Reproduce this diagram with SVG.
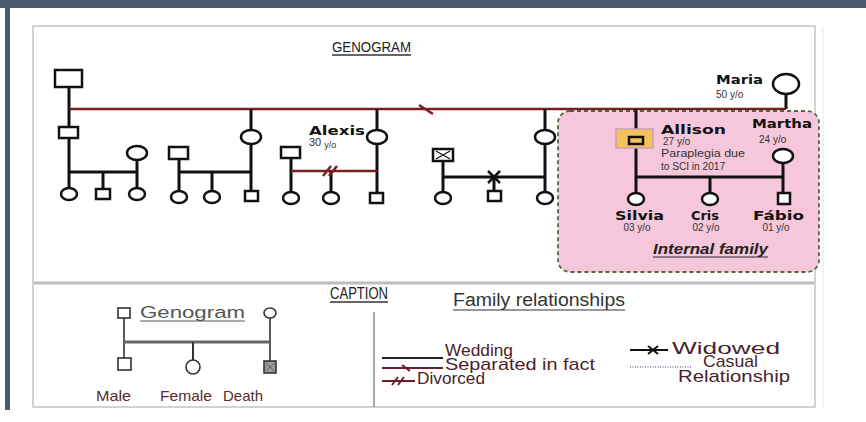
<svg xmlns="http://www.w3.org/2000/svg" width="866" height="422" viewBox="0 0 866 422">
<style>
.ln{stroke:#111;stroke-width:3;fill:none}
.rl{stroke:#7a1f22;stroke-width:2.5;fill:none}
.nd{stroke:#111;stroke-width:2.5;fill:#fff}
.nm{font-family:"DejaVu Sans",sans-serif;font-weight:bold;font-size:13px;fill:#111}
.ag{font-family:"Liberation Sans",Arial,sans-serif;font-size:10px;fill:#333}
.lg{font-family:"Liberation Sans",Arial,sans-serif;font-size:17px;fill:#4a1f2a}
.lb{font-family:"Liberation Sans",Arial,sans-serif;font-size:15px;fill:#5a2a2a}
.cap{stroke:#333;stroke-width:1.6;fill:#fff}
</style>
<rect x="0" y="0" width="866" height="422" fill="#fff"/>
<rect x="0" y="0" width="866" height="8" fill="#4a5b70"/>
<rect x="5" y="0" width="5" height="410" fill="#4a5b70"/>
<rect x="33" y="26" width="782" height="381" fill="#fff" stroke="#c4c4c4" stroke-width="1.5"/>
<line x1="823" y1="26" x2="823" y2="407" stroke="#eee" stroke-width="1.5"/>
<line x1="33" y1="283" x2="815" y2="283" stroke="#bdbdbd" stroke-width="3"/>

<g id="title">
<text x="332" y="52" font-family="Liberation Sans,Arial,sans-serif" font-size="15" fill="#222" textLength="79" lengthAdjust="spacingAndGlyphs">GENOGRAM</text>
<line x1="332" y1="55" x2="411" y2="55" stroke="#333" stroke-width="1.3"/>
</g>

<g id="internal-family-box">
<rect x="558" y="111" width="261" height="161" rx="12" fill="#f6c7da" stroke="#4f6b3a" stroke-width="1.8" stroke-dasharray="4 3"/>
</g>

<g id="connectors">
<line class="ln" x1="69" y1="87" x2="69" y2="109"/>
<line class="rl" x1="69" y1="109" x2="786" y2="109"/>
<path class="rl" d="M419,105 L433,114" stroke-width="2"/>
<line class="ln" x1="69" y1="109" x2="69" y2="189"/>
<line class="ln" x1="137" y1="160" x2="137" y2="188"/>
<line class="ln" x1="69" y1="172" x2="137" y2="172"/>
<line class="ln" x1="103" y1="172" x2="103" y2="189"/>
<line class="ln" x1="179" y1="159" x2="179" y2="191"/>
<line class="ln" x1="251" y1="109" x2="251" y2="190"/>
<line class="ln" x1="179" y1="172" x2="251" y2="172"/>
<line class="ln" x1="212" y1="172" x2="212" y2="191"/>
<line class="ln" x1="377" y1="109" x2="377" y2="193"/>
<line class="ln" x1="291" y1="158" x2="291" y2="192"/>
<line class="rl" x1="291" y1="171" x2="377" y2="171"/>
<line class="ln" x1="331" y1="171" x2="331" y2="192"/>
<path class="rl" d="M323,176 L331,166 M329,176 L337,166" stroke-width="2"/>
<line class="ln" x1="443" y1="161" x2="443" y2="192"/>
<line class="ln" x1="443" y1="177" x2="545" y2="177"/>
<line class="ln" x1="545" y1="109" x2="545" y2="192"/>
<line class="ln" x1="494" y1="177" x2="494" y2="191"/>
<path d="M488,171 L500,183 M488,183 L500,171" stroke="#111" stroke-width="2.5"/>
<line class="ln" x1="636" y1="109" x2="636" y2="193"/>
<line class="ln" x1="636" y1="177" x2="783" y2="177"/>
<line class="ln" x1="783" y1="163" x2="783" y2="193"/>
<line class="ln" x1="710" y1="177" x2="710" y2="193"/>
<line class="ln" x1="786" y1="94" x2="786" y2="109"/>
</g>

<g id="grandfather"><rect class="nd" x="55" y="70" width="27" height="17" stroke-width="3.5"/></g>
<g id="son1"><rect class="nd" x="59" y="127" width="19" height="11"/></g>
<g id="son1-wife"><ellipse class="nd" cx="137" cy="153" rx="10" ry="7"/></g>
<g id="gc1"><ellipse class="nd" cx="69" cy="194" rx="8" ry="6"/></g>
<g id="gc2"><rect class="nd" x="96" y="189" width="14" height="10"/></g>
<g id="gc3"><ellipse class="nd" cx="137" cy="194" rx="8" ry="6"/></g>

<g id="daughter1-husband"><rect class="nd" x="169" y="147" width="19" height="12"/></g>
<g id="daughter1"><ellipse class="nd" cx="251" cy="137" rx="10" ry="7"/></g>
<g id="gc4"><ellipse class="nd" cx="179" cy="197" rx="8" ry="6"/></g>
<g id="gc5"><ellipse class="nd" cx="212" cy="197" rx="8" ry="6"/></g>
<g id="gc6"><rect class="nd" x="245" y="191" width="13" height="10"/></g>

<g id="alexis">
<ellipse class="nd" cx="377" cy="137" rx="10" ry="7"/>
<text class="nm" x="309" y="135" textLength="56" lengthAdjust="spacingAndGlyphs">Alexis</text>
<text x="309" y="146" font-family="Liberation Sans,Arial,sans-serif" font-size="11" fill="#333">30 <tspan font-size="9" dy="2">y/o</tspan></text>
</g>
<g id="alexis-ex"><rect class="nd" x="281" y="147" width="19" height="11"/></g>
<g id="gc7"><ellipse class="nd" cx="291" cy="198" rx="8" ry="6"/></g>
<g id="gc8"><ellipse class="nd" cx="331" cy="198" rx="8" ry="6"/></g>
<g id="gc9"><rect class="nd" x="370" y="193" width="13" height="10"/></g>

<g id="deceased-husband">
<rect class="nd" x="433" y="149" width="20" height="12"/>
<path d="M436,151 L450,159 M436,159 L450,151" stroke="#111" stroke-width="1.2"/>
</g>
<g id="daughter3"><ellipse class="nd" cx="545" cy="137" rx="10" ry="7"/></g>
<g id="gc10"><ellipse class="nd" cx="443" cy="198" rx="8" ry="6"/></g>
<g id="gc11"><rect class="nd" x="488" y="191" width="13" height="10"/></g>
<g id="gc12"><ellipse class="nd" cx="545" cy="198" rx="8" ry="6"/></g>

<g id="maria">
<ellipse class="nd" cx="786" cy="84" rx="13" ry="10"/>
<text class="nm" x="716" y="84" textLength="47" lengthAdjust="spacingAndGlyphs">Maria</text>
<text class="ag" x="716" y="98" font-size="11">50 y/o</text>
</g>

<g id="allison">
<rect x="616" y="129" width="37" height="19" fill="#f6c35b" stroke="#c9a0b8" stroke-width="1.5"/>
<rect x="629" y="137" width="14" height="7" fill="#f6c35b" stroke="#111" stroke-width="2.5"/>
<text class="nm" x="661" y="134" textLength="65" lengthAdjust="spacingAndGlyphs">Allison</text>
<text class="ag" x="663" y="145" font-size="11">27 y/o</text>
<text class="ag" x="661" y="157" font-size="10.5" textLength="84" lengthAdjust="spacingAndGlyphs">Paraplegia due</text>
<text class="ag" x="661" y="170" font-size="10.5" textLength="64" lengthAdjust="spacingAndGlyphs">to SCI in 2017</text>
</g>
<g id="martha">
<ellipse class="nd" cx="783" cy="156" rx="10" ry="7"/>
<text class="nm" x="752" y="128" textLength="60" lengthAdjust="spacingAndGlyphs">Martha</text>
<text class="ag" x="759" y="143" font-size="11">24 y/o</text>
</g>
<g id="silvia">
<ellipse class="nd" cx="636" cy="199" rx="8" ry="6"/>
<text class="nm" x="615" y="220" textLength="49" lengthAdjust="spacingAndGlyphs">Silvia</text>
<text class="ag" x="637" y="231" text-anchor="middle">03 y/o</text>
</g>
<g id="cris">
<ellipse class="nd" cx="710" cy="199" rx="8" ry="6"/>
<text class="nm" x="691" y="220" textLength="28" lengthAdjust="spacingAndGlyphs">Cris</text>
<text class="ag" x="706" y="231" text-anchor="middle">02 y/o</text>
</g>
<g id="fabio">
<rect class="nd" x="778" y="193" width="12" height="11"/>
<text class="nm" x="753" y="220" textLength="51" lengthAdjust="spacingAndGlyphs">Fábio</text>
<text class="ag" x="776" y="231" text-anchor="middle">01 y/o</text>
</g>
<g id="internal-family-label">
<text x="653" y="254" font-family="Liberation Sans,Arial,sans-serif" font-size="14" font-weight="bold" font-style="italic" fill="#222" textLength="115" lengthAdjust="spacingAndGlyphs">Internal family</text>
<line x1="653" y1="257" x2="768" y2="257" stroke="#222" stroke-width="1"/>
</g>

<g id="caption">
<text x="330" y="299" font-family="Liberation Sans,Arial,sans-serif" font-size="17" fill="#222" textLength="58" lengthAdjust="spacingAndGlyphs">CAPTION</text>
<line x1="330" y1="302" x2="388" y2="302" stroke="#333" stroke-width="1.3"/>
<line x1="374" y1="312" x2="374" y2="407" stroke="#888" stroke-width="1.5"/>
</g>

<g id="legend-genogram">
<line x1="124" y1="318" x2="124" y2="358" stroke="#333" stroke-width="1.6"/>
<line x1="270" y1="318" x2="270" y2="361" stroke="#333" stroke-width="1.6"/>
<line x1="124" y1="342" x2="270" y2="342" stroke="#666" stroke-width="3"/>
<line x1="193" y1="342" x2="193" y2="360" stroke="#333" stroke-width="2"/>
<rect class="cap" x="118" y="308" width="12" height="10"/>
<text x="140" y="318" font-family="Liberation Sans,Arial,sans-serif" font-size="16" fill="#555" textLength="105" lengthAdjust="spacingAndGlyphs">Genogram</text>
<line x1="140" y1="321" x2="245" y2="321" stroke="#555" stroke-width="1"/>
<ellipse class="cap" cx="270" cy="313" rx="6" ry="5"/>
<rect class="cap" x="118" y="358" width="13" height="12"/>
<ellipse class="cap" cx="193" cy="367" rx="7" ry="7"/>
<rect x="264" y="361" width="12" height="12" fill="#999" stroke="#333" stroke-width="1.6"/>
<path d="M266,363 L274,371 M266,371 L274,363" stroke="#555" stroke-width="0.8"/>
<text class="lb" x="96" y="401" textLength="35" lengthAdjust="spacingAndGlyphs">Male</text>
<text class="lb" x="160" y="401" textLength="52" lengthAdjust="spacingAndGlyphs">Female</text>
<text class="lb" x="223" y="401" textLength="40" lengthAdjust="spacingAndGlyphs">Death</text>
</g>

<g id="legend-relationships">
<text x="453" y="306" font-family="Liberation Sans,Arial,sans-serif" font-size="18" fill="#333" textLength="172" lengthAdjust="spacingAndGlyphs">Family relationships</text>
<line x1="453" y1="310" x2="625" y2="310" stroke="#333" stroke-width="1.2"/>
<line x1="382" y1="358" x2="443" y2="358" stroke="#222" stroke-width="2"/>
<line x1="382" y1="368" x2="443" y2="368" stroke="#6b1f2a" stroke-width="2"/>
<path d="M402,365 L410,371" stroke="#6b1f2a" stroke-width="2"/>
<line x1="382" y1="381" x2="415" y2="381" stroke="#6b1f2a" stroke-width="2"/>
<path d="M392,385 L398,377 M398,385 L404,377" stroke="#6b1f2a" stroke-width="2"/>
<text class="lg" x="445" y="356" textLength="68" lengthAdjust="spacingAndGlyphs">Wedding</text>
<text class="lg" x="445" y="370" textLength="150" lengthAdjust="spacingAndGlyphs">Separated in fact</text>
<text class="lg" x="417" y="384" textLength="68" lengthAdjust="spacingAndGlyphs">Divorced</text>
<line x1="630" y1="350" x2="668" y2="350" stroke="#111" stroke-width="2"/>
<path d="M648,346 L658,354 M648,354 L658,346" stroke="#111" stroke-width="2"/>
<line x1="630" y1="367" x2="692" y2="367" stroke="#6a7ab8" stroke-width="1.5" stroke-dasharray="1 1.5"/>
<text class="lg" x="672" y="354" textLength="108" lengthAdjust="spacingAndGlyphs">Widowed</text>
<text class="lg" x="703" y="367" textLength="55" lengthAdjust="spacingAndGlyphs">Casual</text>
<text class="lg" x="678" y="382" textLength="112" lengthAdjust="spacingAndGlyphs">Relationship</text>
</g>
</svg>
